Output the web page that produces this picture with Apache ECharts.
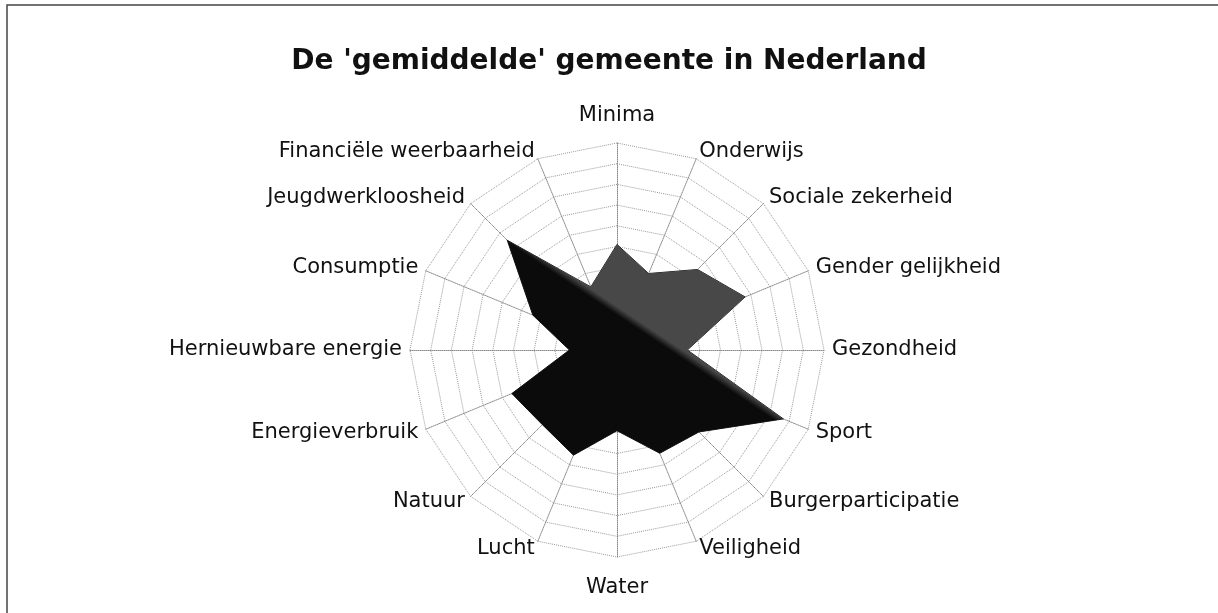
<!DOCTYPE html>
<html>
<head>
<meta charset="utf-8">
<script src="https://cdn.jsdelivr.net/npm/echarts@6/dist/echarts.min.js"></script>
<style>
html,body{margin:0;padding:0;background:#fff;}
#chart{width:1218px;height:613px;}
</style>
</head>
<body>
<div id="chart"></div>
<script>
// Categories in clockwise order starting at the top
var categories = ['Minima', 'Onderwijs', 'Sociale zekerheid', 'Gender gelijkheid', 'Gezondheid', 'Sport',
  'Burgerparticipatie', 'Veiligheid', 'Water', 'Lucht', 'Natuur', 'Energieverbruik',
  'Hernieuwbare energie', 'Consumptie', 'Jeugdwerkloosheid', 'Financiële weerbaarheid'];
var values = [5.1, 4.0, 5.5, 6.7, 3.4, 8.7, 5.6, 5.4, 3.9, 5.5, 5.1, 5.5, 2.3, 4.4, 7.5, 3.3];
var axisMax = 10;
var titleText = "De 'gemiddelde' gemeente in Nederland";

// ECharts lays radar indicators out counter-clockwise; reorder to get clockwise order
var order = [0];
for (var i = categories.length - 1; i >= 1; i--) order.push(i);
var indicators = order.map(function (i) { return { name: categories[i], min: 0, max: axisMax }; });
var seriesValues = order.map(function (i) { return values[i]; });
var topName = categories[0];
var bottomName = categories[8];

var chart = echarts.init(document.getElementById('chart'), null, { renderer: 'canvas' });
chart.setOption({
  backgroundColor: '#ffffff',
  animation: false,
  title: {
    text: titleText,
    left: 'center',
    top: 43,
    textStyle: { fontFamily: 'DejaVu Sans', fontWeight: 'bold', fontSize: 28, color: '#111' }
  },
  graphic: [{
    type: 'rect',
    shape: { x: 7, y: 5, width: 1240, height: 640 },
    style: { fill: 'none', stroke: '#444', lineWidth: 1.5 },
    silent: true
  }],
  radar: {
    center: [617, 350],
    radius: 207,
    startAngle: 90,
    splitNumber: 10,
    shape: 'polygon',
    nameGap: 8,
    axisName: {
      color: '#111', fontFamily: 'DejaVu Sans', fontSize: 21,
      formatter: function (name) {
        if (name === topName) return '{top|' + name + '}';
        if (name === bottomName) return '{bot|' + name + '}';
        return name;
      },
      rich: {
        top: { color: '#111', fontFamily: 'DejaVu Sans', fontSize: 21, padding: [0, 0, 9, 0] },
        bot: { color: '#111', fontFamily: 'DejaVu Sans', fontSize: 21, padding: [12, 0, 0, 0] }
      }
    },
    axisLine: { lineStyle: { color: '#8a8a8a', type: 'dotted', width: 1 } },
    splitLine: { lineStyle: { color: '#9a9a9a', type: 'dotted', width: 1 } },
    splitArea: { show: false },
    axisTick: { show: false },
    axisLabel: { show: false },
    indicator: indicators
  },
  series: [{
    type: 'radar',
    symbol: 'none',
    lineStyle: { color: '#1a1a1a', width: 1 },
    areaStyle: {
      opacity: 1,
      color: {
        type: 'linear', global: true,
        x: 644, y: 333, x2: 648, y2: 327,
        colorStops: [{ offset: 0, color: '#0b0b0b' }, { offset: 1, color: '#484848' }]
      }
    },
    data: [{ value: seriesValues, name: 'Gemeente' }]
  }]
});
</script>
</body>
</html>
